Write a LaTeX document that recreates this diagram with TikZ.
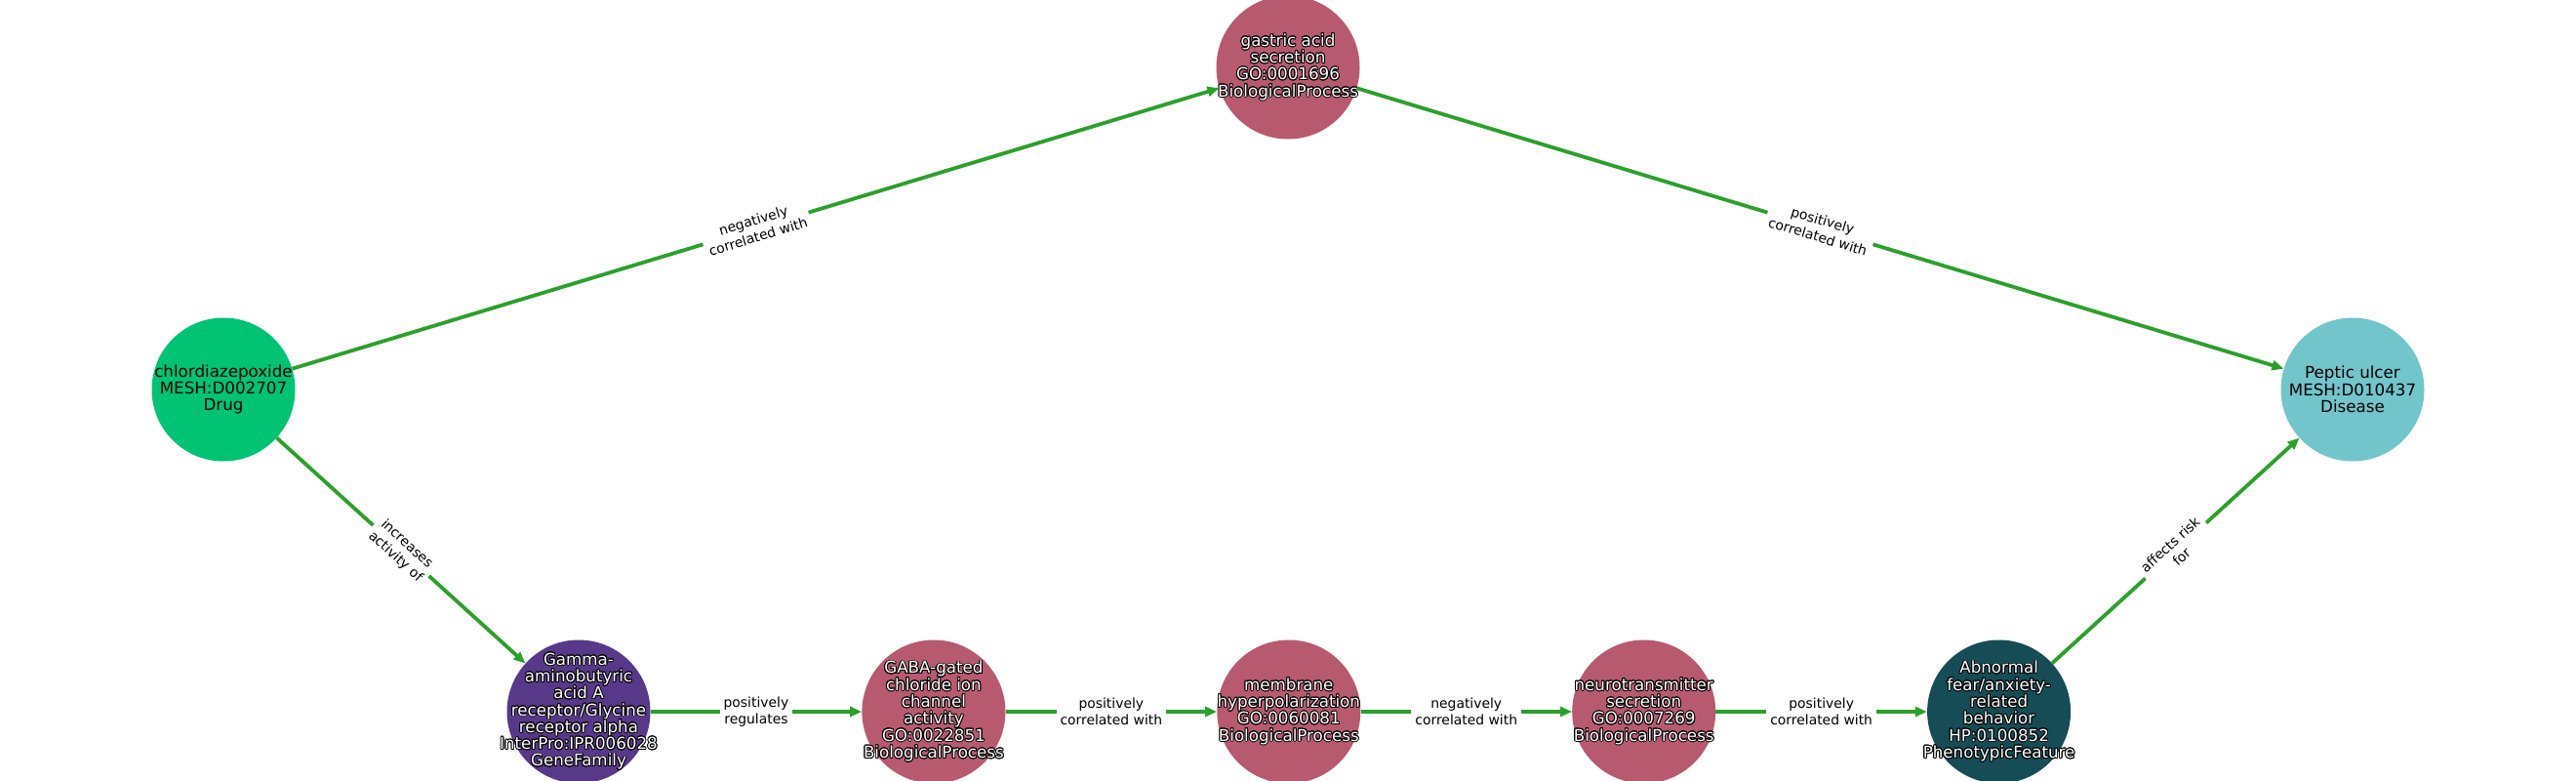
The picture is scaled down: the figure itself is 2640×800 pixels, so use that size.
\documentclass[tikz,border=0pt]{standalone}
\usepackage{fontspec}
\setmainfont{DejaVu Sans}
\usepackage{contour}
\contourlength{0.9pt}
\usetikzlibrary{arrows.meta,positioning}

\definecolor{drugcolor}{HTML}{00C373}
\definecolor{processcolor}{HTML}{B75A6F}
\definecolor{familycolor}{HTML}{583889}
\definecolor{phenocolor}{HTML}{164C56}
\definecolor{diseasecolor}{HTML}{72C5CA}
\definecolor{edgecolor}{HTML}{2CA02C}

\newcommand{\halo}[1]{\contour{black}{#1}}

\tikzset{
    entity/.style={circle, minimum size=147pt, inner sep=0pt},
    entitytext/.style={align=center, inner sep=0pt, text=black,
        font=\fontsize{16.7}{17.3}\selectfont},
    darktext/.style={entitytext, text=white},
    relation/.style={draw=edgecolor, line width=3.8pt,
        -{Triangle[length=12pt,width=10pt]}},
    relationlabel/.style={midway, sloped, fill=white, inner sep=4pt, align=center,
        text=black, font=\fontsize{13.9}{17.3}\selectfont}
}

\begin{document}
\begin{tikzpicture}[x=1pt, y=-1pt, node distance=216.5pt]
    \useasboundingbox (0,0) rectangle (2640,800);

    \node[entity, fill=drugcolor, label={[entitytext]center:chlordiazepoxide\\MESH:D002707\\Drug}]
        (drug) at (229,399) {};
    \node[entity, fill=processcolor, label={[darktext]center:\halo{gastric acid}\\\halo{secretion}\\\halo{GO:0001696}\\\halo{BiologicalProcess}}]
        (gastric) at (1320,69) {};
    \node[entity, fill=diseasecolor, label={[entitytext]center:Peptic ulcer\\MESH:D010437\\Disease}]
        (ulcer) at (2411,399) {};

    \node[entity, fill=familycolor, label={[darktext]center:\halo{Gamma-}\\\halo{aminobutyric}\\\halo{acid A}\\\halo{receptor/Glycine}\\\halo{receptor alpha}\\\halo{InterPro:IPR006028}\\\halo{GeneFamily}}]
        (receptor) at (593,729) {};
    \node[entity, fill=processcolor, right=of receptor, label={[darktext]center:\halo{GABA-gated}\\\halo{chloride ion}\\\halo{channel}\\\halo{activity}\\\halo{GO:0022851}\\\halo{BiologicalProcess}}]
        (chloride) {};
    \node[entity, fill=processcolor, right=of chloride, label={[darktext]center:\halo{membrane}\\\halo{hyperpolarization}\\\halo{GO:0060081}\\\halo{BiologicalProcess}}]
        (membrane) {};
    \node[entity, fill=processcolor, right=of membrane, label={[darktext]center:\halo{neurotransmitter}\\\halo{secretion}\\\halo{GO:0007269}\\\halo{BiologicalProcess}}]
        (transmitter) {};
    \node[entity, fill=phenocolor, right=of transmitter, label={[darktext]center:\halo{Abnormal}\\\halo{fear/anxiety-}\\\halo{related}\\\halo{behavior}\\\halo{HP:0100852}\\\halo{PhenotypicFeature}}]
        (anxiety) {};

    \draw[relation] (drug) -- node[relationlabel] {negatively\\correlated with} (gastric);
    \draw[relation] (gastric) -- node[relationlabel] {positively\\correlated with} (ulcer);
    \draw[relation] (drug) -- node[relationlabel] {increases\\activity of} (receptor);
    \draw[relation] (receptor) -- node[relationlabel] {positively\\regulates} (chloride);
    \draw[relation] (chloride) -- node[relationlabel] {positively\\correlated with} (membrane);
    \draw[relation] (membrane) -- node[relationlabel] {negatively\\correlated with} (transmitter);
    \draw[relation] (transmitter) -- node[relationlabel] {positively\\correlated with} (anxiety);
    \draw[relation] (anxiety) -- node[relationlabel] {affects risk\\for} (ulcer);
\end{tikzpicture}
\end{document}
